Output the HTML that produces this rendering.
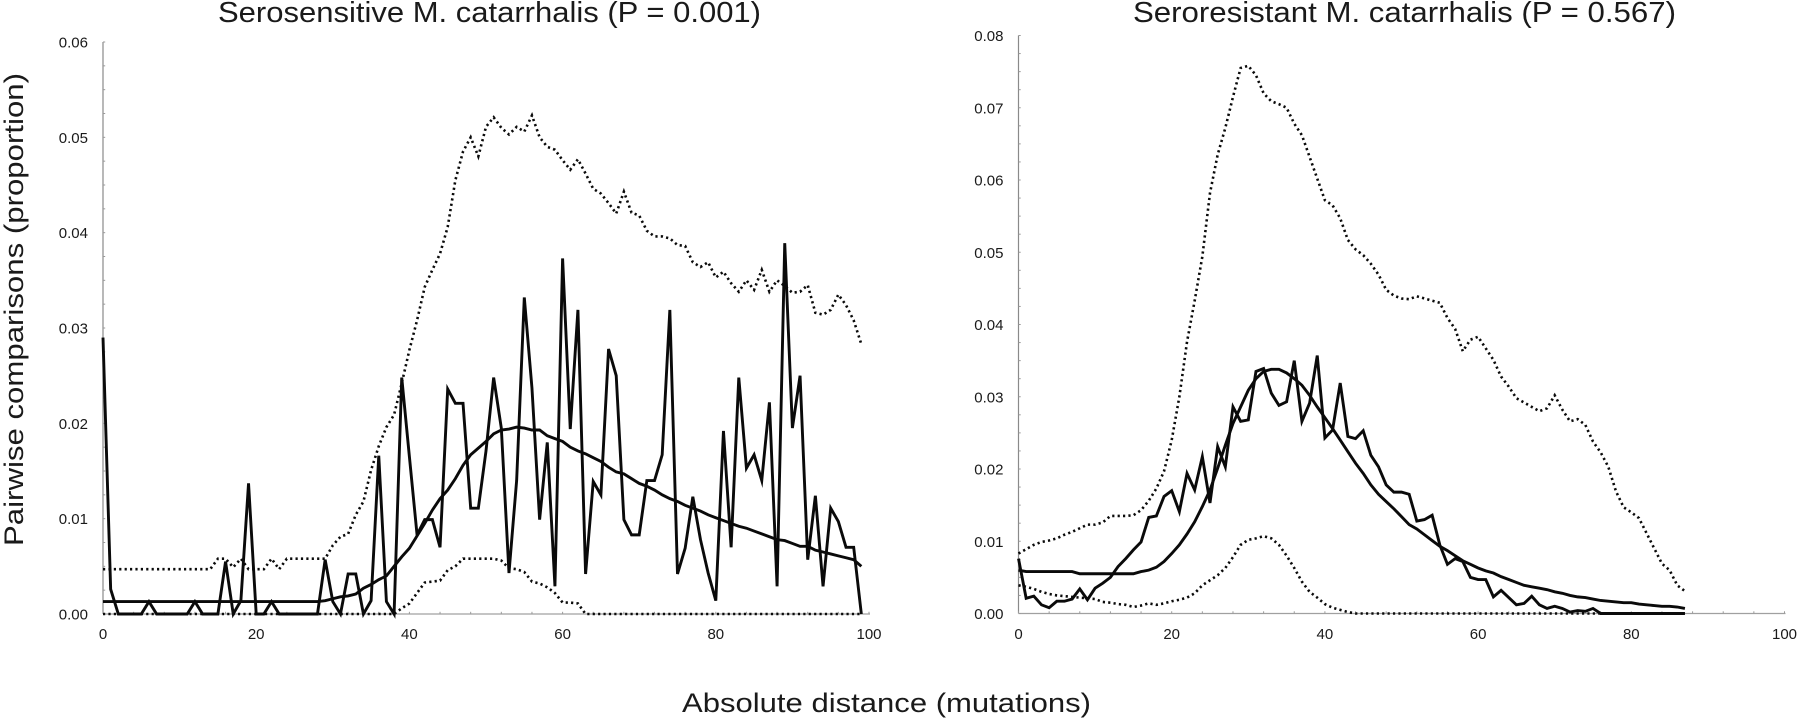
<!DOCTYPE html>
<html lang="en">
<head>
<meta charset="utf-8">
<title>Pairwise comparisons of M. catarrhalis</title>
<style>
html,body{margin:0;padding:0;background:#fff;width:1800px;height:718px;overflow:hidden}
svg{display:block}
text{font-family:"Liberation Sans",sans-serif;fill:#1a1a1a}
</style>
</head>
<body>
<svg id="chart" xmlns="http://www.w3.org/2000/svg" width="1800" height="718" viewBox="0 0 1800 718">
<rect x="0" y="0" width="1800" height="718" fill="#fff"/>
<text x="218" y="22" font-size="29" textLength="543" lengthAdjust="spacingAndGlyphs">Serosensitive M. catarrhalis (P = 0.001)</text>
<text x="1133" y="22" font-size="29" textLength="543" lengthAdjust="spacingAndGlyphs">Seroresistant M. catarrhalis (P = 0.567)</text>
<text transform="translate(23,546) rotate(-90)" font-size="27" textLength="473" lengthAdjust="spacingAndGlyphs">Pairwise comparisons (proportion)</text>
<text x="682" y="712" font-size="26.5" textLength="409" lengthAdjust="spacingAndGlyphs">Absolute distance (mutations)</text>
<g id="left-panel"></g>
<g id="right-panel"></g>
</svg>
<script>
const xTickLabels = [0, 20, 40, 60, 80, 100];
const xMinorTicks = [4,8,12,16,24,28,32,36,44,48,52,56,64,68,72,76,84,88,92,96];
const yTickLabelsLeft = [0, 0.01, 0.02, 0.03, 0.04, 0.05, 0.06];
const yTickLabelsRight = [0, 0.01, 0.02, 0.03, 0.04, 0.05, 0.06, 0.07, 0.08];

const leftObserved = [0.0290,0.0026,0,0,0,0,0.0013,0,0,0,0,0,0.0013,0,0,0,0.0055,0,0.0014,0.0137,
0,0,0.0013,0,0,0,0,0,0,0.0057,0.0013,0,0.0042,0.0042,0,0.0014,0.0166,0.0013,0,0.0248,
0.0165,0.0083,0.0099,0.0099,0.0070,0.0236,0.0221,0.0221,0.0111,0.0111,0.0171,0.0248,0.0195,0.0043,0.0140,0.0332,0.0237,0.0099,0.0180,0.0029,
0.0373,0.0194,0.0319,0.0042,0.0139,0.0125,0.0278,0.0250,0.0099,0.0083,0.0083,0.0140,0.0140,0.0167,0.0319,0.0042,0.0069,0.0123,0.0078,0.0043,
0.0014,0.0192,0.0070,0.0248,0.0153,0.0167,0.0140,0.0222,0.0029,0.0389,0.0195,0.0250,0.0057,0.0124,0.0029,0.0111,0.0097,0.0070,0.0070,0];

const leftMean = [0.0013,0.0013,0.0013,0.0013,0.0013,0.0013,0.0013,0.0013,0.0013,0.0013,0.0013,0.0013,0.0013,0.0013,0.0013,0.0013,0.0013,0.0013,0.0013,0.0013,
0.0013,0.0013,0.0013,0.0013,0.0013,0.0013,0.0013,0.0013,0.0013,0.0014,0.0016,0.0018,0.0019,0.0021,0.0027,0.0031,0.0036,0.0040,0.0050,0.0060,
0.0069,0.0082,0.0095,0.0109,0.0121,0.0130,0.0142,0.0156,0.0167,0.0174,0.0181,0.0189,0.0193,0.0194,0.0196,0.0195,0.0193,0.0193,0.0187,0.0184,
0.0181,0.0175,0.0171,0.0168,0.0164,0.0160,0.0154,0.0149,0.0147,0.0142,0.0137,0.0134,0.0130,0.0125,0.0121,0.0118,0.0114,0.0111,0.0108,0.0104,
0.0101,0.0098,0.0095,0.0092,0.0090,0.0087,0.0084,0.0081,0.0078,0.0077,0.0074,0.0071,0.0071,0.0067,0.0065,0.0063,0.0061,0.0059,0.0057,0.0050];

const leftUpper = [0.0047,0.0047,0.0047,0.0047,0.0047,0.0047,0.0047,0.0047,0.0047,0.0047,0.0047,0.0047,0.0047,0.0047,0.0047,0.0058,0.0058,0.0049,0.0058,0.0047,
0.0047,0.0047,0.0058,0.0047,0.0058,0.0058,0.0058,0.0058,0.0058,0.0058,0.0072,0.0081,0.0084,0.0104,0.0118,0.0151,0.0176,0.0196,0.0209,0.0242,
0.0277,0.0308,0.0343,0.0361,0.0378,0.0406,0.0455,0.0485,0.0500,0.0480,0.0511,0.0521,0.0510,0.0503,0.0511,0.0506,0.0523,0.0500,0.0490,0.0487,
0.0476,0.0466,0.0477,0.0462,0.0446,0.0441,0.0431,0.0420,0.0443,0.0421,0.0418,0.0402,0.0396,0.0396,0.0394,0.0387,0.0386,0.0369,0.0364,0.0369,
0.0353,0.0359,0.0347,0.0338,0.0350,0.0340,0.0361,0.0338,0.0350,0.0344,0.0337,0.0338,0.0345,0.0316,0.0314,0.0319,0.0335,0.0324,0.0308,0.0283];

const leftLower = [0,0,0,0,0,0,0,0,0,0,0,0,0,0,0,0,0,0,0,0,
0,0,0,0,0,0,0,0,0,0,0,0,0,0,0,0,0,0,0,0.0006,
0.0011,0.0022,0.0033,0.0034,0.0035,0.0046,0.0050,0.0058,0.0058,0.0058,0.0058,0.0058,0.0056,0.0048,0.0047,0.0044,0.0034,0.0032,0.0028,0.0022,
0.0012,0.0012,0.0011,0,0,0,0,0,0,0,0,0,0,0,0,0,0,0,0,0,
0,0,0,0,0,0,0,0,0,0,0,0,0,0,0,0,0,0,0,0];

const rightObserved = [0.0076,0.0021,0.0024,0.0012,0.0008,0.0017,0.0017,0.0020,0.0034,0.0019,0.0035,0.0042,0.0050,0.0065,0.0076,0.0088,0.0099,0.0133,0.0135,0.0162,
0.0170,0.0141,0.0194,0.0171,0.0217,0.0153,0.0231,0.0203,0.0286,0.0266,0.0268,0.0335,0.0339,0.0305,0.0288,0.0293,0.0350,0.0266,0.0291,0.0357,
0.0243,0.0254,0.0319,0.0245,0.0242,0.0253,0.0219,0.0203,0.0178,0.0168,0.0168,0.0165,0.0128,0.0130,0.0136,0.0095,0.0068,0.0076,0.0072,0.0050,
0.0047,0.0047,0.0023,0.0032,0.0022,0.0012,0.0014,0.0024,0.0012,0.0007,0.0010,0.0007,0.0002,0.0004,0.0003,0.0007,0,0,0,0,
0,0,0,0,0,0,0,0];

const rightMean = [0.0060,0.0058,0.0058,0.0058,0.0058,0.0058,0.0058,0.0058,0.0055,0.0055,0.0055,0.0055,0.0055,0.0055,0.0055,0.0055,0.0058,0.0060,0.0064,0.0072,
0.0083,0.0095,0.0110,0.0127,0.0148,0.0171,0.0201,0.0233,0.0263,0.0286,0.0309,0.0325,0.0335,0.0338,0.0338,0.0333,0.0325,0.0316,0.0302,0.0286,
0.0271,0.0256,0.0240,0.0224,0.0208,0.0194,0.0178,0.0165,0.0155,0.0145,0.0134,0.0123,0.0117,0.0109,0.0101,0.0093,0.0087,0.0080,0.0073,0.0068,
0.0063,0.0059,0.0056,0.0051,0.0047,0.0043,0.0039,0.0037,0.0035,0.0033,0.0030,0.0028,0.0025,0.0023,0.0022,0.0020,0.0018,0.0017,0.0016,0.0015,
0.0015,0.0013,0.0012,0.0011,0.0010,0.0010,0.0009,0.0007];

const rightUpper = [0.0083,0.0089,0.0095,0.0099,0.0101,0.0104,0.0109,0.0113,0.0118,0.0123,0.0123,0.0126,0.0135,0.0135,0.0135,0.0136,0.0143,0.0156,0.0173,0.0197,
0.0240,0.0300,0.0376,0.0433,0.0494,0.0582,0.0635,0.0672,0.0715,0.0755,0.0758,0.0745,0.0720,0.0709,0.0705,0.0700,0.0678,0.0662,0.0632,0.0602,
0.0572,0.0565,0.0547,0.0517,0.0504,0.0496,0.0484,0.0469,0.0448,0.0440,0.0436,0.0435,0.0439,0.0436,0.0433,0.0430,0.0409,0.0394,0.0363,0.0379,
0.0383,0.0367,0.0351,0.0328,0.0314,0.0298,0.0292,0.0286,0.0280,0.0284,0.0302,0.0282,0.0266,0.0269,0.0261,0.0238,0.0223,0.0203,0.0169,0.0147,
0.0140,0.0132,0.0111,0.0090,0.0069,0.0060,0.0039,0.0031];

const rightLower = [0.0039,0.0037,0.0034,0.0030,0.0027,0.0025,0.0024,0.0023,0.0022,0.0021,0.0020,0.0016,0.0015,0.0013,0.0012,0.0009,0.0011,0.0014,0.0012,0.0014,
0.0017,0.0019,0.0022,0.0028,0.0039,0.0046,0.0053,0.0063,0.0078,0.0095,0.0102,0.0104,0.0107,0.0104,0.0095,0.0080,0.0063,0.0044,0.0030,0.0022,
0.0013,0.0008,0.0005,0.0002,0,0,0,0,0,0,0,0,0,0,0,0,0,0,0,0,
0,0,0,0,0,0,0,0,0,0,0,0,0,0,0,0,0,0,0,0,
0,0,0,0,0,0,0,0];

const NS = 'http://www.w3.org/2000/svg';

function makeX(x0) { return function (d) { return x0 + d * 7.66; }; }
function makeY(y0, height, maxVal) { return function (v) { return y0 - (v / maxVal) * height; }; }

function svgEl(tag, attrs, parent) {
  const el = document.createElementNS(NS, tag);
  for (const k in attrs) el.setAttribute(k, attrs[k]);
  parent.appendChild(el);
  return el;
}

function pointsOf(values, xs, ys) {
  return values.map(function (v, i) { return xs(i).toFixed(2) + ',' + ys(v).toFixed(2); }).join(' ');
}

function drawAxes(group, side, xs, ys, yTicks, maxVal, y0) {
  const yAxis = svgEl('line', { x1: xs(0), x2: xs(0), y1: ys(maxVal), y2: y0, stroke: '#8a8a8a', 'stroke-width': 1.2 }, group);
  
  
  const xAxis = svgEl('line', { x1: xs(0), x2: xs(100) + 1, y1: y0, y2: y0, stroke: '#a0a0a0', 'stroke-width': 1.2 }, group);
  
  

  yTicks.forEach(function (t, i) {
    const label = svgEl('text', { x: xs(0) - 15, y: ys(t) + 5.5, 'font-size': 15, 'text-anchor': 'end' }, group);
    label.textContent = t === 0 ? '0.00' : t.toFixed(2);
    
    
    for (let q = 0; q < 4; q++) {
      if (i === yTicks.length - 1 && q > 0) break;
      const v = t + q * 0.0025;
      const tick = svgEl('line', { x1: xs(0), x2: xs(0) + 2.2, y1: ys(v), y2: ys(v), stroke: '#9a9a9a', 'stroke-width': 1 }, group);
      
      
    }
  });

  xTickLabels.forEach(function (t) {
    const label = svgEl('text', { x: xs(t), y: 639, 'font-size': 15, 'text-anchor': 'middle' }, group);
    label.textContent = String(t);
    
    
    const tick = svgEl('line', { x1: xs(t), x2: xs(t), y1: y0, y2: y0 - 2.2, stroke: '#9a9a9a', 'stroke-width': 1 }, group);
    
    
  });
  xMinorTicks.forEach(function (t) {
    const tick = svgEl('line', { x1: xs(t), x2: xs(t), y1: y0, y2: y0 - 2.2, stroke: '#9a9a9a', 'stroke-width': 1 }, group);
    
    
  });
}

function drawSolid(group, name, values, xs, ys, width) {
  const line = svgEl('polyline', { points: pointsOf(values, xs, ys), fill: 'none', stroke: '#0a0a0a', 'stroke-width': width, 'stroke-linejoin': 'miter', 'stroke-miterlimit': 6 }, group);
  
  
}

function drawDotted(group, name, values, xs, ys) {
  const line = svgEl('polyline', { points: pointsOf(values, xs, ys), fill: 'none', stroke: '#0a0a0a', 'stroke-width': 2.6, 'stroke-dasharray': '2.2 3.2' }, group);
  
  
}

const leftGroup = document.getElementById('left-panel');
const leftX = makeX(103);
const leftY = makeY(614, 572, 0.06);
drawAxes(leftGroup, 'left', leftX, leftY, yTickLabelsLeft, 0.06, 614);
drawDotted(leftGroup, 'left-upper-envelope', leftUpper, leftX, leftY);
drawDotted(leftGroup, 'left-lower-envelope', leftLower, leftX, leftY);
drawSolid(leftGroup, 'left-observed-line', leftObserved, leftX, leftY, 2.9);
drawSolid(leftGroup, 'left-mean-line', leftMean, leftX, leftY, 2.9);

const rightGroup = document.getElementById('right-panel');
const rightX = makeX(1018.5);
const rightY = makeY(613.5, 578, 0.08);
drawAxes(rightGroup, 'right', rightX, rightY, yTickLabelsRight, 0.08, 613.5);
drawDotted(rightGroup, 'right-upper-envelope', rightUpper, rightX, rightY);
drawDotted(rightGroup, 'right-lower-envelope', rightLower, rightX, rightY);
drawSolid(rightGroup, 'right-observed-line', rightObserved, rightX, rightY, 2.9);
drawSolid(rightGroup, 'right-mean-line', rightMean, rightX, rightY, 2.9);
</script>
</body>
</html>
